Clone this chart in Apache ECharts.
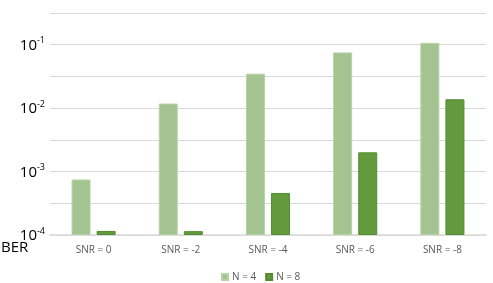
<!DOCTYPE html>
<html><head><meta charset="utf-8">
<script src="https://cdn.jsdelivr.net/npm/echarts@6/dist/echarts.min.js"></script>
<style>html,body{margin:0;padding:0;background:#fff}#c{width:493px;height:283px}</style>
</head><body><div id="c"></div>
<script>
const categories = ['SNR = 0', 'SNR = -2', 'SNR = -4', 'SNR = -6', 'SNR = -8'];
const seriesNames = ['N = 4', 'N = 8'];
const berN4 = [7.5e-4, 0.0118, 0.035, 0.0757, 0.107];
const berN8 = [1.16e-4, 1.15e-4, 4.6e-4, 0.00201, 0.0138];
const yTickExponents = [-4, -3, -2, -1];
const berFloor = 1e-4; // axis baseline (10^-4)

// bars measured in decades above the baseline, so they rise from 10^-4
const toDecades = v => Math.log10(v) - Math.log10(berFloor);

const chart = echarts.init(document.getElementById('c'));
chart.setOption({
  animation: false,
  grid: { left: 50, right: 7, top: 13, bottom: 48 },
  legend: {
    top: 267, left: 216, itemWidth: 6, itemHeight: 6, itemGap: 9,
    icon: 'rect',
    textStyle: { color: '#595959', fontSize: 10, fontFamily: 'Open Sans', padding: [0, 0, 0, -1] },
    data: seriesNames
  },
  xAxis: {
    type: 'category', data: categories,
    axisLine: { lineStyle: { color: '#d9d9d9', width: 1.5 } },
    axisTick: { show: false },
    axisLabel: { color: '#595959', fontSize: 10, fontFamily: 'Open Sans', margin: 10 }
  },
  yAxis: {
    type: 'value', min: 0, max: 3.5, interval: 0.5,
    axisLine: { show: false }, axisTick: { show: false },
    splitLine: { lineStyle: { color: '#d9d9d9', width: 1 } },
    axisLabel: {
      margin: 5,
      formatter: function (d) {
        const e = d + Math.log10(berFloor);
        if (yTickExponents.indexOf(e) < 0) return '';
        return '{b|10}{s|' + e + '}';
      },
      rich: {
        b: { fontSize: 15, color: '#000', fontFamily: 'Open Sans', verticalAlign: 'bottom' },
        s: { fontSize: 9, color: '#000', fontFamily: 'Open Sans', verticalAlign: 'top', padding: [0, 0, 8, 0] }
      }
    }
  },
  graphic: [{ type: 'text', left: 1, top: 240, style: { text: 'BER', fontSize: 15, fill: '#000', fontFamily: 'Open Sans' } }],
  series: [
    { name: seriesNames[0], type: 'bar', data: berN4.map(toDecades), barWidth: 19, barGap: '32%',
      itemStyle: { color: '#a3c490', borderColor: '#b7d3a6', borderWidth: 1 } },
    { name: seriesNames[1], type: 'bar', data: berN8.map(toDecades), barWidth: 19,
      itemStyle: { color: '#639a3d', borderColor: '#548b30', borderWidth: 1 } }
  ]
});
</script></body></html>
